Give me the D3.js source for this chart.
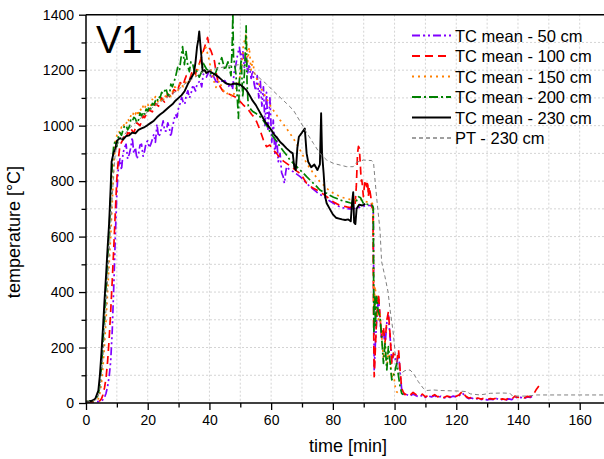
<!DOCTYPE html>
<html><head><meta charset="utf-8">
<script src="https://cdn.jsdelivr.net/npm/d3@7"></script>
<style>
html,body{margin:0;padding:0;background:#fff;}
svg{display:block;font-family:"Liberation Sans",Arial,sans-serif;}
</style></head>
<body><svg id="c" width="604" height="459"></svg>
<script>
// ---------- DATA ----------
const xTicks = [0,20,40,60,80,100,120,140,160];
const yTicks = [0,200,400,600,800,1000,1200,1400];
const seriesNames = ["TC mean - 50 cm","TC mean - 100 cm","TC mean - 150 cm","TC mean - 200 cm","TC mean - 230 cm","PT - 230 cm"];

const t50 = [0,1,2,3,4,5,5.5,6,6.5,7,7.5,8,8.5,9,9.5,10,10.5,11,11.5,12,12.5,13,13.5,14,14.5,15,15.5,16,16.5,17,17.5,18,18.5,19,19.5,20,20.5,21,22,22.5,23,23.5,24,25,25.5,26,26.5,27,27.5,28,28.5,29,29.5,30,30.5,31,31.5,32,32.5,33,33.5,34,34.5,35,35.5,36,37,37.5,38,39,40,40.5,41,42,42.5,43,44,45,46,47,47.5,48,48.6,49.2,49.7,50.3,50.8,51.3,51.9,52.4,52.9,53.5,54,54.5,55,55.5,56,56.5,57,57.5,58,58.5,59,59.6,60.2,60.7,61.2,61.8,62.3,62.9,63.4,63.9,64.3,64.7,65,65.6,66.1,67.2,68.3,69.4,70.5,71.5,72.6,73.7,74.8,75.8,77,78,79,80.2,81.3,82.3,83.5,84.5,85.5,86.6,87.7,88.8,89.9,91,92,92.8,93.1,93.4,93.8,94.2,94.8,95.3,95.8,96.4,96.9,97.5,98,98.6,99.1,99.6,100.2,100.7,101.3,101.8,102.3,102.8,103.4,104,105,106,107,108,109,110,111,112,113,114,115,116,117,118,119,120,121,122,123,124,125,126,127,128,129,130,131,132,133,134,135,136,137,138,139,140,141,142,143,144,145];
const v50 = [3,3,4,5,5,8,12,20,35,60,95,150,260,420,600,760,850,880,840,900,921,933,880,897,920,957,900,921,880,897,930,933,890,909,940,945,920,933,969,940,1005,960,969,1017,980,981,1010,993,960,993,1020,1041,1030,1065,1080,1102,1085,1077,1110,1126,1100,1113,1140,1138,1125,1150,1162,1140,1186,1175,1198,1170,1186,1162,1150,1174,1160,1162,1140,1150,1130,1190,1222,1260,1282,1240,1270,1210,1246,1190,1222,1170,1198,1150,1126,1180,1100,1160,1070,1140,1000,1120,980,1100,940,1020,900,960,870,900,830,816,792,830,852,845,840,834,825,816,804,792,780,770,760,752,744,737,728,720,713,707,703,701,700,701,703,706,710,712,712,710,700,120,220,300,380,300,230,265,205,290,315,230,150,170,160,140,180,110,50,35,25,30,25,32,26,22,28,20,25,22,27,20,24,18,22,20,25,22,27,36,22,16,18,13,16,12,15,11,14,12,16,11,13,10,15,12,22,18,20,16,22,20,28];

const t100 = [0,1,2,3,4,4.5,5,5.5,6,6.5,7,7.5,8,8.5,9,9.5,10,10.5,11,12,12.5,13,13.5,14,14.5,15,15.5,16,16.5,17,17.5,18,18.5,19,19.5,20,20.5,21,21.5,22,22.5,23,23.5,24,24.5,25,25.5,26,26.5,27,27.5,28,28.5,29,29.5,30,30.5,31,31.5,32,32.5,33,33.5,34,34.5,35,35.5,36,36.7,37.5,38.4,39.4,40,40.5,41.1,41.6,42.2,42.7,43.5,44.3,45.4,46.5,47.5,48.6,49.7,50.8,51.9,52.9,53.7,54.6,55.3,56.4,57.5,58.5,59.6,60.7,61.8,62.9,64,65,66.1,67.2,68.3,69.4,70.5,71.5,72.6,73.7,74.8,75.8,77,78,79,80.2,81.3,82.3,83.5,84.5,85.5,86.6,87.2,87.6,88,88.3,88.6,88.9,89.2,89.4,89.9,90.4,90.7,91,91.3,91.5,91.8,92.3,92.6,93,93.2,93.4,93.8,94.2,94.8,95.3,95.8,96.4,96.9,97.5,98,98.6,99.1,99.6,100.2,100.7,101.3,101.8,102.3,102.8,103.4,104,105,106,107,108,109,110,111,112,113,114,115,116,117,118,119,120,121,122,123,124,125,126,127,128,129,130,131,132,133,134,135,136,137,138,139,140,141,142,143,144,145,146,147];
const v100 = [3,3,4,5,6,8,15,30,55,90,150,230,330,440,560,690,810,880,930,950,965,957,975,970,990,981,975,990,1010,1005,1000,1015,1035,1029,1040,1040,1060,1053,1050,1062,1080,1075,1070,1085,1100,1090,1085,1096,1115,1105,1100,1113,1130,1125,1120,1138,1155,1150,1145,1165,1180,1174,1165,1180,1200,1195,1185,1210,1222,1250,1282,1318,1280,1270,1250,1234,1190,1162,1140,1126,1118,1113,1108,1102,1090,1077,1065,1053,1040,1029,1014,984,948,924,930,912,900,882,872,864,855,846,836,828,810,792,782,774,768,762,752,744,735,725,718,713,710,707,705,707,715,780,900,925,918,860,800,804,744,804,790,780,800,744,780,744,707,700,300,95,200,311,395,311,239,275,215,299,329,239,143,180,167,150,191,119,53,40,30,35,28,38,30,25,32,22,28,24,30,22,27,20,25,22,28,24,30,42,25,18,20,15,18,14,17,12,16,14,18,13,15,12,18,14,25,20,22,18,24,22,30,50,65];

const t150 = [0,1,2,3,4,4.5,5,5.5,6,6.5,7,7.5,8,8.5,9,9.5,10,10.5,11,11.5,12,12.5,13,13.5,14,14.5,15,15.5,16,16.5,17,17.5,18,18.5,19,19.5,20,20.5,21,21.5,22,22.5,23,23.5,24,24.5,25,25.5,26,26.5,27,27.5,28,28.5,29,29.5,30,30.5,31,31.5,32,32.5,33,33.5,34,34.5,35,35.5,36,37,37.8,38.9,39.5,40,40.5,41.1,42.1,43.2,44.3,45.4,46.5,47.5,48.5,49.7,50.5,51,51.9,52.4,52.9,53.5,54,54.6,55.3,56.4,57.5,58.5,59.6,60.7,61.8,62.9,64,65,66.1,67.2,68.3,69.4,70.5,71.5,72.6,73.7,74.8,75.8,77,78,79,80.2,81.3,82.3,83.5,84.5,85.5,86.6,87.7,88.8,89.9,91,92,92.8,93.1,93.3,93.7,94.2,94.7,95.3,95.8,96.4,96.9,97.5,98,98.6,99.1,99.6,100.2,100.7,101.3];
const v150 = [5,5,6,8,15,35,70,130,210,300,400,500,600,720,850,940,965,980,975,995,990,1010,1005,1025,1017,1035,1030,1050,1041,1055,1035,1062,1053,1070,1060,1080,1077,1065,1070,1095,1090,1105,1096,1080,1085,1100,1092,1110,1100,1120,1113,1105,1120,1140,1138,1125,1130,1155,1150,1140,1145,1165,1162,1150,1170,1185,1180,1175,1195,1230,1270,1282,1255,1234,1200,1174,1138,1162,1130,1113,1120,1102,1130,1162,1220,1290,1330,1230,1282,1200,1236,1188,1170,1140,1120,1098,1075,1056,1038,1020,1005,990,972,954,933,912,888,864,846,828,812,798,786,774,765,756,750,744,740,737,734,732,733,735,728,725,722,720,700,350,420,360,300,320,250,160,220,130,190,150,90,110,60,40,35];

const t200 = [0,1,2,3,4,4.5,5,5.5,6,6.5,7,7.5,8,8.5,9,9.5,10,10.5,11,11.5,12,12.5,13,13.5,14,14.5,15,15.5,16,16.5,17,17.5,18,18.5,19,19.5,20,20.5,21,21.5,22,22.5,23,23.5,24,24.5,25,25.5,25.9,26.5,27,27.5,28,29,29.7,30.3,30.8,31.3,31.9,32.4,33,33.5,34,34.6,35.2,35.7,36.7,37.5,38,39,40,41,42,43,44,45,46,47,47.4,47.6,47.8,48.6,49.4,49.7,50.3,50.8,51.4,51.9,52.2,52.6,53.7,54.2,55,56.4,57.5,58.5,59.5,60.7,62,62.9,64,65,66,67.2,68.3,69.4,70.5,71.5,72.6,73.7,74.8,75.8,77,78,79,80.2,81.3,82.3,83.5,84.5,85.5,86.6,87.5,88.3,89,89.9,91,92,92.8,93.1,93.3,93.6,93.8,94.2,94.7,95.3,95.8,96.4,96.9,97.5,98,98.6,99.1,99.6,100.2,100.7,101.3,101.8,102.3,102.8];
const v200 = [5,6,8,12,30,70,130,220,320,420,520,620,740,860,930,945,925,960,975,965,985,1000,1000,985,995,1020,1015,1030,1025,1010,1020,1045,1035,1050,1040,1060,1052,1070,1060,1080,1075,1090,1085,1105,1100,1120,1115,1125,1135,1110,1108,1150,1140,1175,1210,1200,1245,1285,1220,1270,1215,1195,1230,1222,1190,1200,1175,1195,1225,1205,1195,1180,1190,1220,1245,1200,1230,1180,1300,1405,1250,1186,1026,1162,1240,1102,1200,1360,1150,1070,1055,1050,1045,1032,1018,1002,980,960,940,924,908,894,878,864,852,840,828,816,804,792,780,768,760,756,749,742,737,732,728,725,722,719,725,744,740,720,717,713,713,705,250,390,280,383,330,311,239,143,215,119,203,143,83,95,120,143,95,59,35,30];

const t230 = [0,1,2,3,4,4.5,5,5.5,6,6.5,7,7.5,8,8.3,8.6,9,9.5,10,11,12,13,14,15,16,17,18,19,20,21,22,23,24,25,26,27,28,29,30,31,32,33,34,35,35.5,36,36.4,36.7,37,37.4,37.8,38.5,39,40,41,42,43,44,45,46,47,48,49,50,51,52,53,54,55,56,57,58,59,60,61,62,63,64,65,66,67,67.5,68,68.5,69,70,70.9,71.5,72,73,74,75,75.8,76.2,76.5,77,77.5,78,79,80,81,82,83,84,85,85.8,86.2,86.6,86.9,87.3,87.7,88.5,89.5,90.5];
const v230 = [5,6,8,15,45,100,180,270,370,460,560,650,780,870,885,905,915,945,955,950,962,965,975,972,985,990,995,1002,1010,1018,1030,1040,1048,1058,1068,1077,1090,1100,1110,1125,1150,1170,1190,1230,1285,1310,1340,1300,1250,1195,1200,1190,1197,1190,1183,1175,1165,1155,1150,1148,1152,1150,1148,1138,1128,1110,1090,1075,1055,1035,1015,1000,985,968,955,940,930,918,908,900,850,840,920,960,975,990,900,870,850,860,840,860,1045,900,830,745,720,700,680,668,665,662,660,662,655,720,760,650,645,700,715,712,718];

const tPT = [0,1,2,3,4,4.5,5,5.5,6,6.5,7,7.5,8,8.5,9,9.5,10,12,14,16,18,20,22,24,26,28,30,32,34,36,38,40,42,44,46,48,50,52,54,56.4,58.5,60.7,62.9,65,67.2,69.4,71.5,73.7,75.8,78,80.2,82.3,84.5,86.6,87.7,89.9,92.6,93.2,93.7,94.2,95.3,95.8,96.9,97.9,98.5,99.5,100.2,100.7,101.3,101.8,102.5,103.4,105,106.1,107.7,109.3,110.4,112.6,115,118,121,123.4,124.5,127.7,131,135,137.4,138.5,139.6,143,146.1,150,160,170];
const vPT = [3,4,6,10,25,50,100,170,250,340,440,540,640,740,840,900,930,960,990,1010,1030,1050,1070,1085,1100,1115,1130,1150,1165,1180,1195,1200,1205,1210,1215,1218,1220,1210,1195,1170,1150,1125,1102,1080,1056,1015,975,936,900,876,864,858,852,852,868,876,874,865,800,740,620,510,455,400,340,260,180,150,120,100,110,117,119,107,77,53,45,47,45,44,43,41,33,29,35,36,35,22,25,25,29,29,29,29];

const tSeries = [t50,t100,t150,t200,t230,tPT];
const vSeries = [v50,v100,v150,v200,v230,vPT];
const colors = ["#8000ff","#ff0000","#ff8000","#008000","#000000","#808080"];
const dashes = ["8,3,2,3,2,3","8,5","2,4","9,3,2,3",null,"4,3"];
const widths = [1.7,1.7,1.7,1.7,1.9,1];

// ---------- CHART ----------
const svg = d3.select("#c");
const L=86, R=604, T=14.7, B=403;
const x = d3.scaleLinear().domain([0,170]).range([L, L+170*3.0856]);
const y = d3.scaleLinear().domain([0,1400]).range([B, T]);

svg.append("defs").append("clipPath").attr("id","clip")
  .append("rect").attr("x",L).attr("y",T).attr("width",R-L).attr("height",B-T);

// grid
const g = svg.append("g");
g.selectAll("line.gx").data(d3.range(10,171,10)).enter().append("line")
  .attr("x1",d=>x(d)).attr("x2",d=>x(d)).attr("y1",T).attr("y2",B)
  .attr("stroke","#d4d4d4").attr("stroke-width",1).attr("stroke-dasharray","2,2");
g.selectAll("line.gy").data(d3.range(100,1400,100)).enter().append("line")
  .attr("x1",L).attr("x2",R).attr("y1",d=>y(d)).attr("y2",d=>y(d))
  .attr("stroke","#d4d4d4").attr("stroke-width",1).attr("stroke-dasharray","2,2");

// lines
const plot = svg.append("g").attr("clip-path","url(#clip)");
const line = d3.line().x(d=>x(d[0])).y(d=>y(d[1]));
tSeries.forEach((ts,i)=>{
  const pts = ts.map((t,j)=>[t,vSeries[i][j]]);
  const p = plot.append("path").datum(pts).attr("d",line)
    .attr("fill","none").attr("stroke",colors[i]).attr("stroke-width",widths[i])
    .attr("stroke-linejoin","round");
  if(dashes[i]) p.attr("stroke-dasharray",dashes[i]);
});

// axes
const axFont = 14;
const fmt = d3.format("d");
const yMinor = svg.append("g").attr("transform",`translate(${L},0)`)
  .call(d3.axisLeft(y).tickValues(d3.range(100,1400,200)).tickSize(4.5).tickFormat(""));
const yAx = svg.append("g").attr("transform",`translate(${L},0)`)
  .call(d3.axisLeft(y).tickValues(yTicks).tickSize(7).tickPadding(5).tickFormat(fmt));
const xMinor = svg.append("g").attr("transform",`translate(0,${B})`)
  .call(d3.axisBottom(x).tickValues(d3.range(10,171,20)).tickSize(4.5).tickFormat(""));
const xAx = svg.append("g").attr("transform",`translate(0,${B})`)
  .call(d3.axisBottom(x).tickValues(xTicks).tickSize(7).tickPadding(5).tickFormat(fmt));
[yMinor,yAx,xMinor,xAx].forEach(a=>{
  a.attr("font-family","Liberation Sans, Arial, sans-serif").attr("font-size",axFont);
  a.select(".domain").remove();
  a.selectAll("line").attr("stroke","#000").attr("stroke-width",1.3);
  a.selectAll("text").attr("fill","#000");
});
// frame lines
svg.append("line").attr("x1",L).attr("x2",R).attr("y1",B).attr("y2",B).attr("stroke","#000").attr("stroke-width",1.5);
svg.append("line").attr("x1",L).attr("x2",L).attr("y1",T).attr("y2",B).attr("stroke","#000").attr("stroke-width",1.5);
svg.append("line").attr("x1",L).attr("x2",R).attr("y1",T).attr("y2",T).attr("stroke","#000").attr("stroke-width",1.5);

// titles
svg.append("text").attr("x",348).attr("y",452).attr("text-anchor","middle")
  .attr("font-size",18).text("time [min]");
svg.append("text").attr("transform","translate(20,232) rotate(-90)").attr("text-anchor","middle")
  .attr("font-size",18).text("temperature [°C]");
svg.append("text").attr("x",96).attr("y",53).attr("font-size",38).text("V1");

// legend
const lg = svg.append("g");
seriesNames.forEach((n,i)=>{
  const yy = 35.5 + i*20.5;
  const l = lg.append("line").attr("x1",412).attr("x2",451).attr("y1",yy).attr("y2",yy)
    .attr("stroke",colors[i]).attr("stroke-width",widths[i]+0.3);
  if(dashes[i]) l.attr("stroke-dasharray",dashes[i]);
  lg.append("text").attr("x",455).attr("y",yy+6).attr("font-size",16.5).text(n);
});
</script></body></html>
